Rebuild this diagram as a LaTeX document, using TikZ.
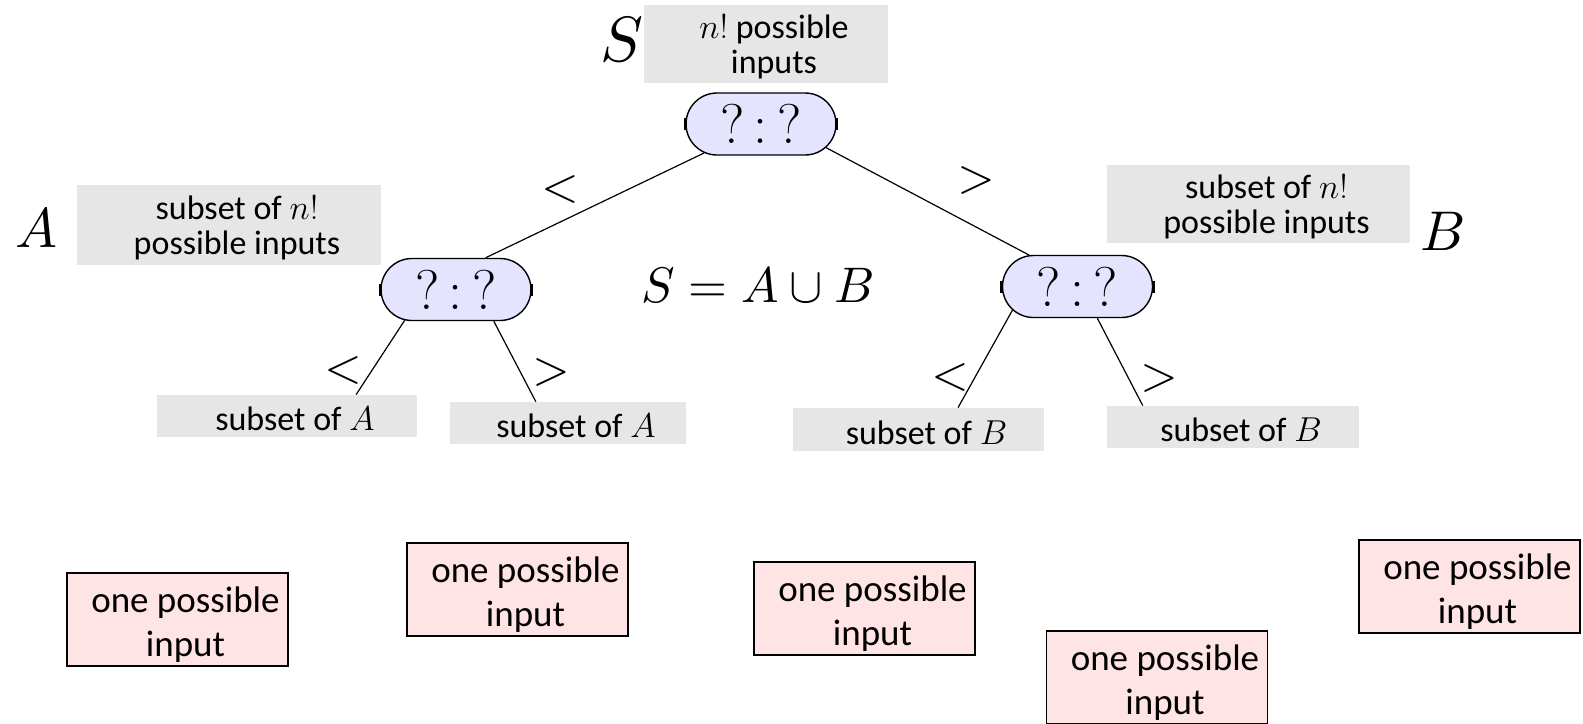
\documentclass[tikz,border=0pt]{standalone}
\usepackage{fontspec}
\setmainfont{Carlito}
\newfontfamily\lmfont{Latin Modern Roman}
\usetikzlibrary{shapes.misc,calc}

\definecolor{boxgray}{RGB}{231,230,230}
\definecolor{boxpink}{RGB}{255,228,230}
\definecolor{ovalblue}{RGB}{228,228,255}

\tikzset{
  cmp/.style={rounded rectangle, draw, line width=0.7pt, fill=ovalblue,
    minimum width=75pt, minimum height=31pt, inner sep=0pt,
    font=\lmfont\fontsize{28}{30}\selectfont},
  graybox/.style={fill=boxgray, inner sep=0pt},
  boxtext/.style={align=center, xshift=4pt, yshift=-1.5pt, font=\fontsize{17}{17.5}\selectfont},
  pinkbox/.style={draw, line width=0.6pt, fill=boxpink, inner sep=0pt,
    minimum width=110.5pt, minimum height=46.5pt},
  pinktext/.style={align=center, xshift=4pt, yshift=-2.5pt, font=\fontsize{18.5}{22}\selectfont},
  edge/.style={line width=0.6pt},
  sign/.style={scale=2.4},
  setname/.style={scale=2.8}
}

\begin{document}
\begin{tikzpicture}[x=0.5pt, y=-0.5pt]
  \useasboundingbox (0,0) rectangle (1583,723);

  % Whole input set
  \node[scale=3.2] (sname) at (622,40) {$S$};
  \node[graybox, minimum width=122pt, minimum height=39pt,
    label={[boxtext]center:{$n!$ possible\\inputs}}] (topbox) at (766,44) {};
  \node[cmp] (root) at (761,124) {?\,:\,?};

  % Left half A
  \node[setname] (aname) at (36,228) {$A$};
  \node[graybox, minimum width=152pt, minimum height=40pt,
    label={[boxtext]center:{subset of $n!$\\possible inputs}}] (abox) at (229,225) {};
  \node[cmp] (lcmp) at (456,289.5) {?\,:\,?};

  % Right half B
  \node[setname] (bname) at (1443,231) {$B$};
  \node[graybox, minimum width=151.5pt, minimum height=39pt,
    label={[boxtext]center:{subset of $n!$\\possible inputs}}] (bbox) at (1258.5,204) {};
  \node[cmp] (rcmp) at (1077.5,286.5) {?\,:\,?};

  \node[scale=2.5] (union) at (758,285) {$S = A \cup B$};

  % Subsets on the third level
  \node[graybox, minimum width=130pt, minimum height=21pt,
    label={[boxtext]center:{subset of $A$}}] (asub1) at (287,416) {};
  \node[graybox, minimum width=118pt, minimum height=21pt,
    label={[boxtext]center:{subset of $A$}}] (asub2) at (568,423) {};
  \node[graybox, minimum width=125.5pt, minimum height=21.5pt,
    label={[boxtext]center:{subset of $B$}}] (bsub1) at (918.5,429.5) {};
  \node[graybox, minimum width=126pt, minimum height=21pt,
    label={[boxtext]center:{subset of $B$}}] (bsub2) at (1233,427) {};

  % Edges
  \draw[edge] (root.207) -- (lcmp.47);
  \draw[edge] (root.340) -- (rcmp.147.5);
  \draw[edge] (lcmp.211) -- ($(asub1.north west)!0.765!(asub1.north east)$);
  \draw[edge] (lcmp.320) -- ($(asub2.north west)!0.364!(asub2.north east)$);
  \draw[edge] (rcmp.200) -- ($(bsub1.north west)!0.657!(bsub1.north east)$);
  \draw[edge] (rcmp.302) -- ($(bsub2.north west)!0.143!(bsub2.north east)$);

  % little handles on the comparison nodes
  \foreach \n in {root,lcmp,rcmp}
    \foreach \a in {west,east}
      \draw[line width=1.5pt] ([yshift=-3pt]\n.\a) -- ([yshift=3pt]\n.\a);

  % Branch signs
  \node[sign] (lt0) at (560,189) {$<$};
  \node[sign] (gt0) at (976,180) {$>$};
  \node[sign] (lt1) at (343,370) {$<$};
  \node[sign] (gt1) at (551,372) {$>$};
  \node[sign] (lt2) at (950,377) {$<$};
  \node[sign] (gt2) at (1159,378) {$>$};

  % Leaves
  \node[pinkbox, label={[pinktext]center:{one possible\\input}}] (leaf1) at (177.5,619.5) {};
  \node[pinkbox, label={[pinktext]center:{one possible\\input}}] (leaf2) at (517.5,589.5) {};
  \node[pinkbox, label={[pinktext]center:{one possible\\input}}] (leaf3) at (864.5,608.5) {};
  \node[pinkbox, label={[pinktext]center:{one possible\\input}}] (leaf4) at (1157,677.5) {};
  \node[pinkbox, label={[pinktext]center:{one possible\\input}}] (leaf5) at (1469.5,586.5) {};
\end{tikzpicture}
\end{document}
